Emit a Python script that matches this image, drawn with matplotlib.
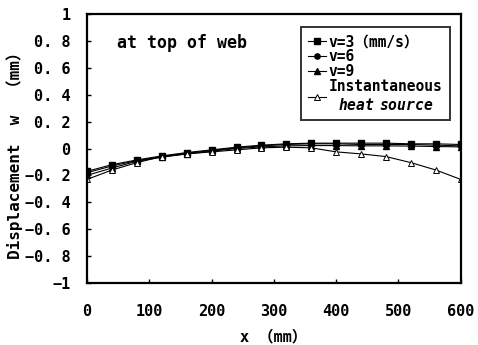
import matplotlib
matplotlib.use("Agg")
import matplotlib.pyplot as plt
from matplotlib.ticker import FixedLocator, FuncFormatter

plt.rcParams["font.family"] = ["DejaVu Sans Mono", "Noto Sans CJK JP"]
plt.rcParams["font.weight"] = "bold"
plt.rcParams["mathtext.fontset"] = "custom"
plt.rcParams["mathtext.it"] = "DejaVu Sans Mono:italic:bold"
plt.rcParams["mathtext.rm"] = "DejaVu Sans Mono:bold"

# positions along the web (mm)
x = [0, 40, 80, 120, 160, 200, 240, 280, 320, 360, 400, 440, 480, 520, 560, 600]

# out-of-plane displacement w (mm) at top of web
w_v3 = [-0.17, -0.12, -0.085, -0.055, -0.03, -0.01, 0.01, 0.025, 0.035, 0.04,
        0.04, 0.04, 0.04, 0.035, 0.035, 0.03]
w_v6 = [-0.18, -0.13, -0.09, -0.06, -0.035, -0.015, 0.005, 0.02, 0.03, 0.035,
        0.035, 0.03, 0.03, 0.03, 0.025, 0.02]
w_v9 = [-0.20, -0.145, -0.095, -0.065, -0.04, -0.02, 0.0, 0.012, 0.02, 0.022,
        0.022, 0.02, 0.02, 0.018, 0.015, 0.012]
w_inst = [-0.23, -0.16, -0.105, -0.06, -0.04, -0.025, -0.01, 0.005, 0.01, 0.005,
          -0.025, -0.04, -0.06, -0.105, -0.16, -0.23]

labels = ["v=3（mm/s）", "v=6", "v=9",
          "Instantaneous\n$\\mathit{heat\\ \\ source}$"]

fig = plt.figure(figsize=(4.78, 3.45), dpi=100)
ax = fig.add_axes([0.182, 0.180, 0.782, 0.779])

ax.plot(x, w_v3, "k-", marker="s", ms=3.8, lw=0.8, label=labels[0])
ax.plot(x, w_v6, "k-", marker="o", ms=3.8, lw=0.8, label=labels[1])
ax.plot(x, w_v9, "k-", marker="^", ms=3.8, lw=0.8, label=labels[2])
ax.plot(x, w_inst, "k-", marker="^", ms=4, lw=0.8, mfc="white", mew=0.7,
        label=labels[3])

ax.set_xlim(0, 600)
ax.set_ylim(-1, 1)
ax.xaxis.set_major_locator(FixedLocator([0, 100, 200, 300, 400, 500, 600]))
ax.yaxis.set_major_locator(FixedLocator([-1, -0.8, -0.6, -0.4, -0.2, 0, 0.2, 0.4, 0.6, 0.8, 1]))


def yfmt(v, pos):
    if abs(v) < 1e-9:
        return "0"
    if abs(abs(v) - 1) < 1e-9:
        return "−1" if v < 0 else "1"
    s = "%.1f" % abs(v)
    s = s.replace(".", ". ")
    return ("−" if v < 0 else "") + s


ax.yaxis.set_major_formatter(FuncFormatter(yfmt))
ax.tick_params(axis="both", direction="in", length=3, width=1, labelsize=11)
ax.tick_params(axis="x", pad=15)
ax.tick_params(axis="y", pad=12)
ax.tick_params(right=False, top=False)

for sp in ax.spines.values():
    sp.set_linewidth(1.6)

ax.set_xlabel("x （mm）", fontsize=11, fontweight="bold", labelpad=8)
ax.set_ylabel("Displacement  w  （mm）", fontsize=11.5, fontweight="bold")
ax.yaxis.set_label_coords(-0.171, 0.49)

ax.text(0.08, 0.892, "at top of web", transform=ax.transAxes, fontsize=12,
        fontweight="bold", va="center", ha="left")

leg = ax.legend(loc="upper right", bbox_to_anchor=(0.971, 0.952), fontsize=10.5,
                frameon=True, fancybox=False, edgecolor="black",
                handlelength=1.2, handletextpad=0.2, borderpad=0.5,
                labelspacing=0.0, borderaxespad=0)
leg.get_frame().set_linewidth(1.4)
leg.get_texts()[3].set_multialignment("center")

fig.savefig("out.png", dpi=100)
